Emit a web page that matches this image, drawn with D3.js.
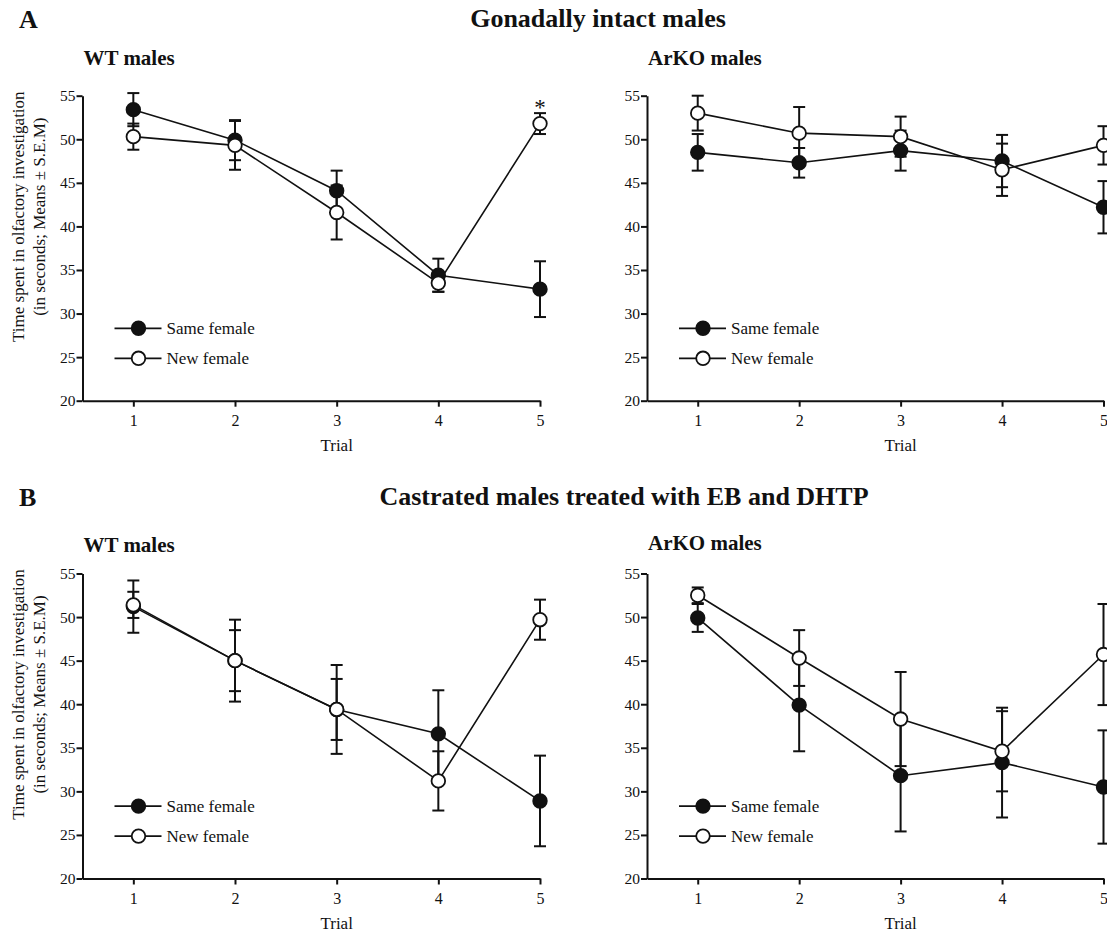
<!DOCTYPE html>
<html>
  <head>
    <meta charset="utf-8">
    <script src="https://unpkg.com/d3@7/dist/d3.min.js"></script>
    <style>
      body {
        margin: 0;
        background: #ffffff;
      }

      svg text {
        font-family: "Liberation Serif", "Times New Roman", serif;
        fill: #111;
      }

      .axis path,
      .axis line {
        stroke: #111;
        stroke-width: 2px;
      }

      .series-line {
        fill: none;
        stroke: #111;
        stroke-width: 1.6px;
      }

      .err {
        stroke: #111;
        stroke-width: 2px;
      }

      .title {
        font-weight: bold;
        font-size: 26px;
      }

      .subtitle {
        font-weight: bold;
        font-size: 21px;
      }
    </style>
  </head>
  <body>
    <script>
      const trials = [1, 2, 3, 4, 5];
      const yTicks = [20, 25, 30, 35, 40, 45, 50, 55];
      const seriesNames = ['Same female', 'New female'];

      // A: gonadally intact
      const intactWtSame = [53.4, 49.9, 44.1, 34.4, 32.8];
      const intactWtSameSem = [1.9, 2.3, 2.3, 1.9, 3.2];
      const intactWtNew = [50.3, 49.3, 41.6, 33.5, 51.8];
      const intactWtNewSem = [1.5, 2.8, 3.1, 1.0, 1.2];
      const intactKoSame = [48.5, 47.3, 48.7, 47.5, 42.2];
      const intactKoSameSem = [2.1, 1.7, 2.3, 3.0, 3.0];
      const intactKoNew = [53.0, 50.7, 50.3, 46.5, 49.3];
      const intactKoNewSem = [2.0, 3.0, 2.3, 3.0, 2.2];

      // B: castrated + EB and DHTP
      const castWtSame = [51.2, 45.0, 39.4, 36.6, 28.9];
      const castWtSameSem = [3.0, 4.7, 5.1, 5.0, 5.2];
      const castWtNew = [51.4, 45.0, 39.4, 31.2, 49.7];
      const castWtNewSem = [1.5, 3.5, 3.5, 3.4, 2.3];
      const castKoSame = [49.9, 39.9, 31.8, 33.3, 30.5];
      const castKoSameSem = [1.6, 5.3, 6.4, 6.3, 6.5];
      const castKoNew = [52.5, 45.3, 38.3, 34.6, 45.7];
      const castKoNewSem = [0.9, 3.2, 5.4, 4.6, 5.8];

      const width = 1107;
      const height = 932;
      const serif = '"Liberation Serif", "Times New Roman", serif';

      const svg = d3.select('body')
        .append('svg')
        .attr('width', width)
        .attr('height', height);

      const zip = (vals, sems) => trials.map((t, i) => ({trial: t, v: vals[i], sem: sems[i]}));

      const panels = [
        {left: 82.5, right: 540, top: 95.7, bottom: 400.7, name: 'WT males', nameY: 65, yLabel: true,
          same: zip(intactWtSame, intactWtSameSem), fresh: zip(intactWtNew, intactWtNewSem), star: 4},
        {left: 647, right: 1103.5, top: 95.7, bottom: 400.7, name: 'ArKO males', nameY: 65, yLabel: false,
          same: zip(intactKoSame, intactKoSameSem), fresh: zip(intactKoNew, intactKoNewSem)},
        {left: 82.5, right: 540, top: 573.5, bottom: 878.5, name: 'WT males', nameY: 552, yLabel: true,
          same: zip(castWtSame, castWtSameSem), fresh: zip(castWtNew, castWtNewSem)},
        {left: 647, right: 1103.5, top: 573.5, bottom: 878.5, name: 'ArKO males', nameY: 550, yLabel: false,
          same: zip(castKoSame, castKoSameSem), fresh: zip(castKoNew, castKoNewSem)}
      ];

      // section headings
      svg.append('text').classed('title', true).attr('x', 19).attr('y', 28).text('A');
      svg.append('text').classed('title', true).attr('x', 598).attr('y', 27)
        .attr('text-anchor', 'middle').text('Gonadally intact males');
      svg.append('text').classed('title', true).attr('x', 19).attr('y', 506).text('B');
      svg.append('text').classed('title', true).attr('x', 624).attr('y', 505)
        .attr('text-anchor', 'middle').text('Castrated males treated with EB and DHTP');

      const drawPanel = p => {
        const x = d3.scaleLinear().domain([0.5, 5]).range([p.left, p.right]);
        const y = d3.scaleLinear().domain([20, 55]).range([p.bottom, p.top]);
        const g = svg.append('g');

        g.append('text')
          .classed('subtitle', true)
          .attr('x', p.left + 1)
          .attr('y', p.nameY)
          .text(p.name);

        g.append('g')
          .classed('axis', true)
          .attr('transform', `translate(${p.left},0)`)
          .call(d3.axisLeft(y).tickValues(yTicks).tickFormat(d3.format('d'))
            .tickSize(6).tickSizeOuter(0).tickPadding(1))
          .attr('font-family', serif)
          .attr('font-size', 15.5);

        g.append('g')
          .classed('axis', true)
          .attr('transform', `translate(0,${p.bottom})`)
          .call(d3.axisBottom(x).tickValues(trials).tickFormat(d3.format('d'))
            .tickSize(6).tickSizeOuter(0).tickPadding(8))
          .attr('font-family', serif)
          .attr('font-size', 16);

        g.append('text')
          .attr('x', x(3))
          .attr('y', p.bottom + 50)
          .attr('text-anchor', 'middle')
          .style('font-size', '17px')
          .text('Trial');

        if (p.yLabel) {
          const yc = p.top + 121;
          const lab = g.append('text')
            .attr('transform', `translate(0,${yc}) rotate(-90)`)
            .attr('text-anchor', 'middle')
            .style('font-size', '17px');
          lab.append('tspan').attr('x', 0).attr('y', 24).text('Time spent in olfactory investigation');
          lab.append('tspan').attr('x', 0).attr('y', 45).text('(in seconds; Means \u00b1 S.E.M)');
        }

        const line = d3.line().x(d => x(d.trial)).y(d => y(d.v));

        [p.same, p.fresh].forEach(data => {
          g.append('path')
            .datum(data)
            .classed('series-line', true)
            .attr('d', line);
        });

        [p.same, p.fresh].forEach(data => {
          const eb = g.append('g');
          eb.selectAll('line.stem').data(data).join('line')
            .classed('err', true)
            .attr('x1', d => x(d.trial)).attr('x2', d => x(d.trial))
            .attr('y1', d => y(d.v - d.sem)).attr('y2', d => y(d.v + d.sem));
          eb.selectAll('line.capt').data(data).join('line')
            .classed('err', true)
            .attr('x1', d => x(d.trial) - 6).attr('x2', d => x(d.trial) + 6)
            .attr('y1', d => y(d.v + d.sem)).attr('y2', d => y(d.v + d.sem));
          eb.selectAll('line.capb').data(data).join('line')
            .classed('err', true)
            .attr('x1', d => x(d.trial) - 6).attr('x2', d => x(d.trial) + 6)
            .attr('y1', d => y(d.v - d.sem)).attr('y2', d => y(d.v - d.sem));
        });

        [p.same, p.fresh].forEach((data, k) => {
          g.selectAll(null).data(data).join('circle')
            .attr('cx', d => x(d.trial))
            .attr('cy', d => y(d.v))
            .attr('r', 6.8)
            .attr('fill', k === 0 ? '#111' : '#fff')
            .attr('stroke', '#111')
            .attr('stroke-width', 1.8);
        });

        if (p.star !== undefined) {
          const d = p.fresh[p.star];
          g.append('text')
            .attr('x', x(d.trial))
            .attr('y', y(d.v + d.sem) + 2)
            .attr('text-anchor', 'middle')
            .style('font-size', '23px')
            .text('*');
        }

        // legend
        seriesNames.forEach((name, k) => {
          const ly = p.bottom - 72.4 + k * 30;
          const lg = g.append('g');
          lg.append('line')
            .attr('x1', p.left + 32).attr('x2', p.left + 79)
            .attr('y1', ly).attr('y2', ly)
            .attr('stroke', '#111').attr('stroke-width', 1.8);
          lg.append('circle')
            .attr('cx', p.left + 56).attr('cy', ly).attr('r', 6.8)
            .attr('fill', k === 0 ? '#111' : '#fff')
            .attr('stroke', '#111').attr('stroke-width', 1.8);
          lg.append('text')
            .attr('x', p.left + 84)
            .attr('y', ly)
            .attr('dy', '0.33em')
            .style('font-size', '17px')
            .text(name);
        });
      };

      panels.forEach(drawPanel);
    </script>
  </body>
</html>
